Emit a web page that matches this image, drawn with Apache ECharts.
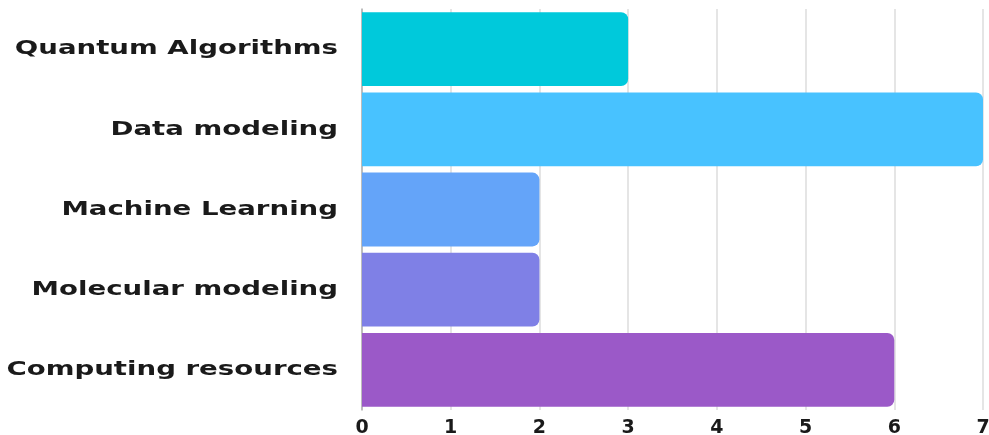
<!DOCTYPE html>
<html><head><meta charset="utf-8">
<script src="https://cdn.jsdelivr.net/npm/echarts@6/dist/echarts.min.js"></script>
<style>html,body{margin:0;padding:0;background:#fff}#c{width:989px;height:435px}</style>
</head><body><div id="c"></div>
<script>
const categories = ["Quantum Algorithms","Data modeling","Machine Learning","Molecular modeling","Computing resources"];
const values = [3, 7, 2, 2, 6];
const colors = ["#00C9DB","#48C2FF","#64A4F9","#7F80E6","#9B59C8"];
const xTicks = [0,1,2,3,4,5,6,7];

const chart = echarts.init(document.getElementById('c'), null, {renderer:'canvas'});
chart.setOption({
  animation:false,
  grid:{left:362,right:6,top:9,bottom:25,containLabel:false,outerBoundsMode:'none'},
  xAxis:{type:'value',min:0,max:7,interval:1,
    axisLine:{show:false},axisTick:{show:false},
    splitLine:{show:true,lineStyle:{color:'#dcdcdc',width:1.5}},
    axisLabel:{color:'#1a1a1a',fontSize:19,fontWeight:'bold',fontFamily:'DejaVu Sans',margin:9,
      formatter:v=>xTicks.includes(v)?String(v):''}},
  yAxis:{type:'category',data:categories,inverse:true,
    axisLine:{show:true,lineStyle:{color:'#b0b0b0',width:1.5}},axisTick:{show:false},
    axisLabel:{show:false}},
  series:[{type:'bar',barCategoryGap:'8%',
    data:values.map((v,i)=>({value:v,itemStyle:{color:colors[i]}})),
    itemStyle:{borderRadius:[0,7,7,0]}}]
});
// category labels as real text, horizontally widened like the reference lettering
const labelX = 338;
chart.setOption({
  graphic: categories.map(c => {
    const y = chart.convertToPixel({yAxisIndex:0}, c);
    return {type:'text', x:labelX, y:y, originX:0, originY:0, scaleX:1.38, silent:true,
      style:{text:c, x:0, y:0, align:'right', verticalAlign:'middle',
        fill:'#1a1a1a', fontSize:20, fontWeight:'bold', fontFamily:'DejaVu Sans'}};
  })
});
</script></body></html>
